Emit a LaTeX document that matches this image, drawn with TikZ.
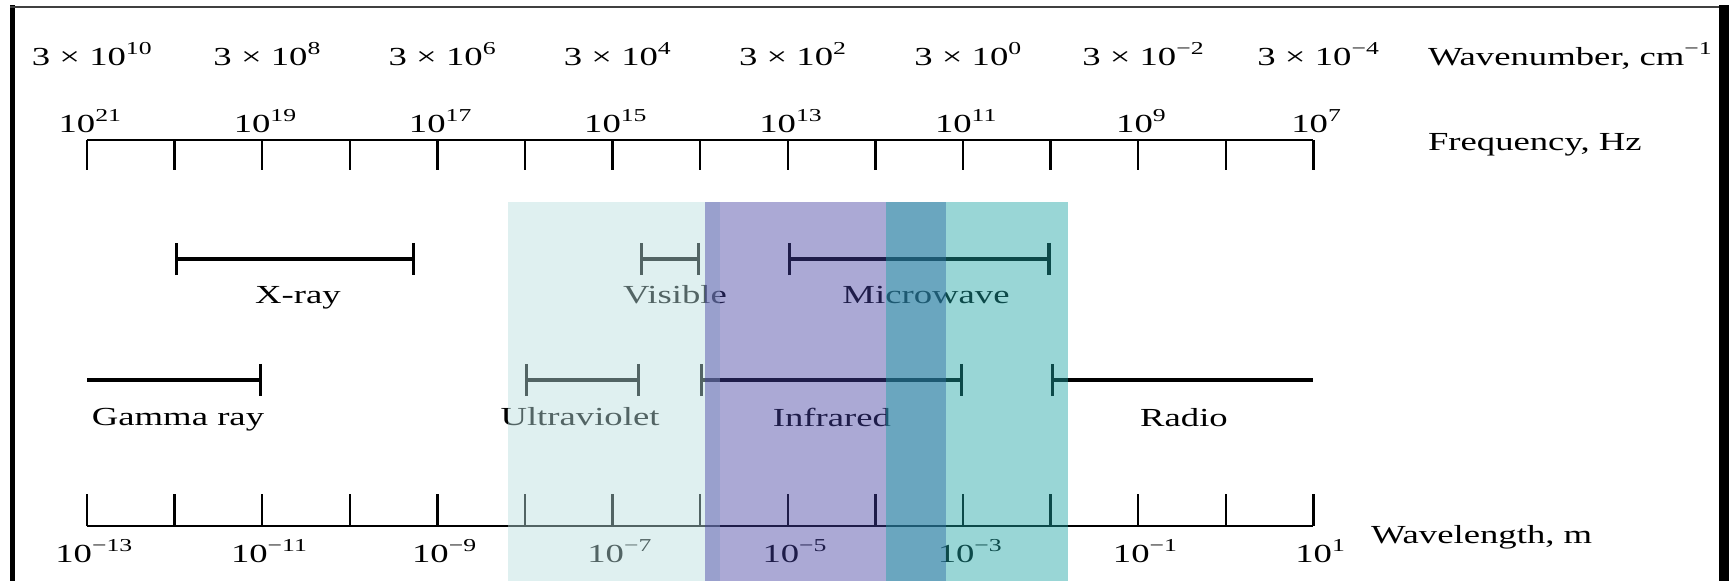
\documentclass[tikz,border=0pt]{standalone}
\usepackage{fontspec}
\setmainfont{Liberation Serif}
\usetikzlibrary{arrows.meta}
\definecolor{uvtint}{RGB}{184,222,222}
\definecolor{irtint}{RGB}{68,64,162}
\definecolor{mwtint}{RGB}{28,164,164}
\newcommand{\tenp}[1]{10\textsuperscript{#1}}

\begin{document}
\begin{tikzpicture}[
    x=0.01cm, y=-0.01cm,
    lbl/.style={font=\fontsize{7.4}{9}\selectfont, inner sep=0pt, anchor=base, xscale=1.41, text=black},
    axislbl/.style={lbl, anchor=base west},
    axis/.style={line width=0.7pt},
    spanbar/.style={line width=0.9pt, {Bar[width=0.32cm]}-{Bar[width=0.32cm]}},
    spanR/.style={line width=0.9pt, -{Bar[width=0.32cm]}},
    spanL/.style={line width=0.9pt, {Bar[width=0.32cm]}-},
    band/.style={fill opacity=0.45, draw=none}
]
\useasboundingbox (0,0) rectangle (1729,581);

% frame
\fill (10,5) rectangle (15,581);
\fill (1719,5) rectangle (1729,581);
\draw[line width=0.02cm, black!75] (10,6.5) -- (1719,6.5);

% tick positions and rows
\foreach \i in {0,...,14} {
  \coordinate (f\i) at ({87+87.6*\i},140);
  \coordinate (w\i) at ({87+87.6*\i},526);
}
\coordinate (top) at (0,259);
\coordinate (bot) at (0,380);

% frequency axis
\draw[axis] (f0) -- (f14);
\foreach \i in {0,...,14} \draw[axis] (f\i) -- ++(0,30);

% wavelength axis
\draw[axis] (w0) -- (w14);
\foreach \i in {0,...,14} \draw[axis] (w\i) -- ++(0,-32);

% scale labels
\foreach \e [count=\k from 0] in {10,8,6,4,2,0,−2,−4}
  \node (wn\k) [lbl] at ({93+175.2*\k},65) {3 × \tenp{\e}};
\foreach \e [count=\k from 0] in {21,19,17,15,13,11,9,7}
  \node (fq\k) [lbl] at ({91+175.2*\k},132) {\tenp{\e}};
\foreach \e [count=\k from 0] in {−13,−11,−9,−7,−5,−3,−1,1}
  \node (wl\k) [lbl] at ({95+175.2*\k},562) {\tenp{\e}};

\node (wnname) [axislbl] at (1427,65) {Wavenumber, cm\textsuperscript{−1}};
\node (fqname) [axislbl] at (1427,150) {Frequency, Hz};
\node (wlname) [axislbl] at (1370,543) {Wavelength, m};

% regions
\draw[spanbar] (f1 |- top) -- (415,259);
\draw[spanbar] (640,259) -- (f7 |- top);
\draw[spanbar] (f8 |- top) -- (f11 |- top);
\draw[spanR] (f0 |- bot) -- (f2 |- bot);
\draw[spanbar] (f5 |- bot) -- (640,380);
\draw[spanbar] (f7 |- bot) -- (f10 |- bot);
\draw[spanL] (f11 |- bot) -- (f14 |- bot);

\node (xray) [lbl] at (298,303) {X-ray};
\node (visible) [lbl] at (675,303) {Visible};
\node (microwave) [lbl] at (926,303) {Microwave};
\node (gamma) [lbl] at (178,425) {Gamma ray};
\node (uv) [lbl] at (580,425) {Ultraviolet};
\node (ir) [lbl] at (832,426) {Infrared};
\node (radio) [lbl] at (1184,426) {Radio};

% coloured bands
\fill[band, uvtint] (508,202) rectangle (720,581);
\fill[band, irtint] (705,202) rectangle (946,581);
\fill[band, mwtint] (886,202) rectangle (1068,581);

\end{tikzpicture}
\end{document}
